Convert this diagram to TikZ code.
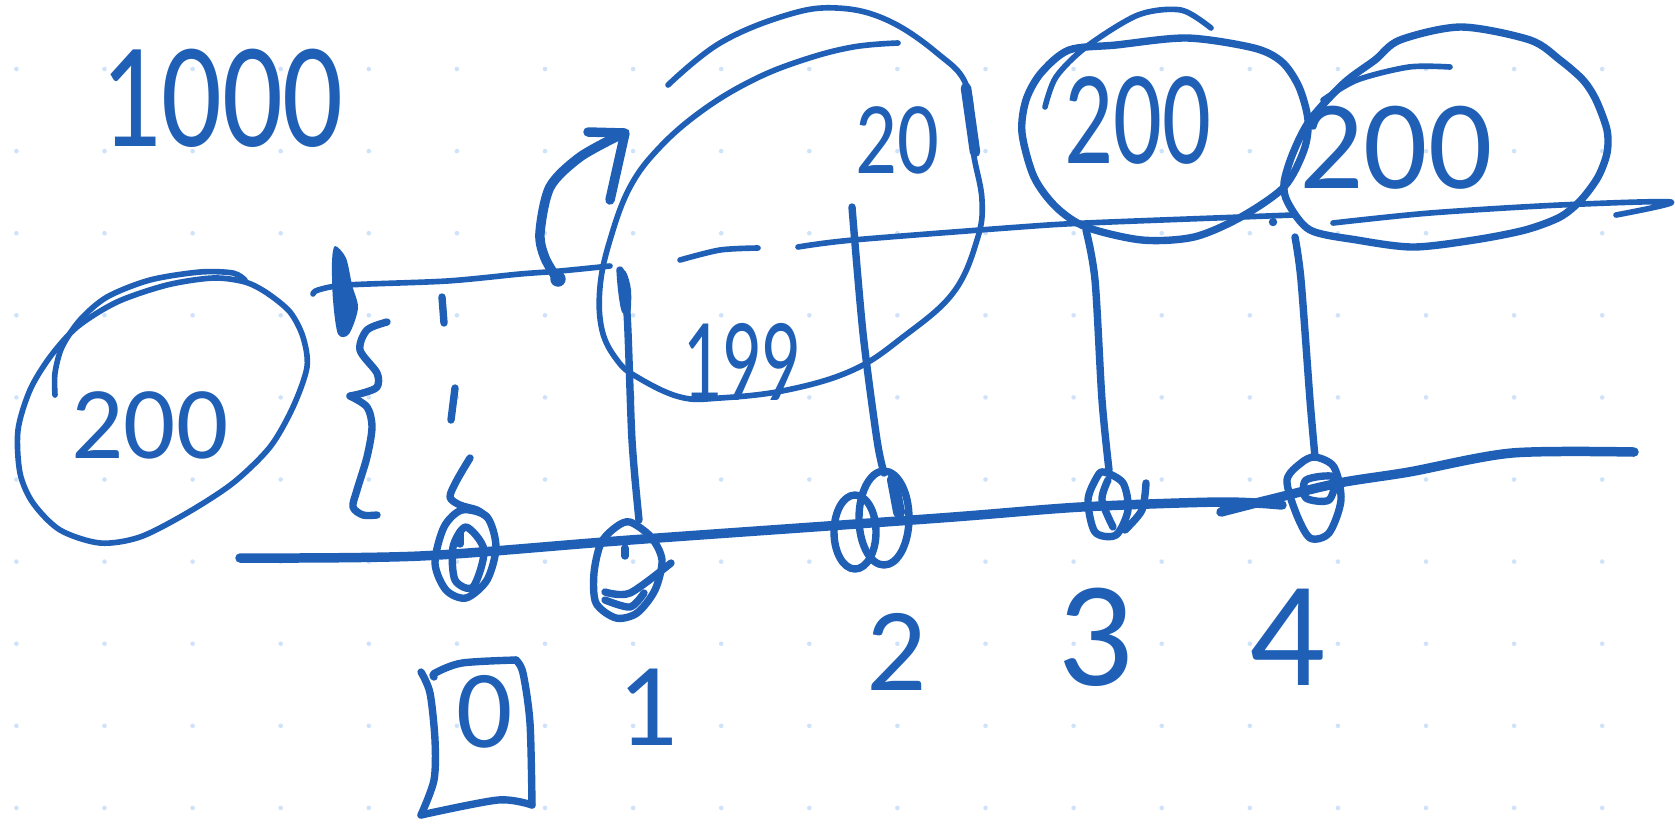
\documentclass[tikz,border=0pt]{standalone}
\usepackage{fontspec}
\setmainfont{Carlito}
\definecolor{ink}{RGB}{31,96,182}
\definecolor{gridc}{RGB}{206,226,250}
\begin{document}
\begin{tikzpicture}[x=0.01cm,y=-0.01cm,
  pen/.style={draw=ink,line width=1.6pt,line cap=round,line join=round},
  penm/.style={pen,line width=2.1pt},
  penb/.style={pen,line width=2.7pt},
  lbl/.style={text=ink,inner sep=0pt,font=\fontsize{#1pt}{#1pt}\selectfont}]
\fill[white] (0,0) rectangle (1675,823);
\useasboundingbox (0,0) rectangle (1675,823);
% dot grid
\foreach \i in {0,...,18}{\foreach \j in {0,...,9}{\fill[gridc] ({16.4+88.1*\i},{69+82.1*\j}) circle[radius=0.65pt];}}
% text
\node[lbl=42.7,xscale=0.8] (t1000) at (222,98) {1000};
\node[lbl=29.3] (tleft) at (150,425) {200};
\node[lbl=33.8,xscale=0.65] (t199) at (741,362) {199};
\node[lbl=29.3,xscale=0.8] (t20) at (897,140) {20};
\node[lbl=38.1,xscale=0.72] (ttop) at (1138,120) {200};
\node[lbl=36.1] (tright) at (1396,148) {200};
\node[lbl=31.6] (n0) at (485,712) {0};
\node[lbl=33.8] (n1) at (648,707) {1};
\node[lbl=33.8] (n2) at (897,652) {2};
\node[lbl=42.7] (n3) at (1096,637) {3};
\node[lbl=42.7] (n4) at (1288,637) {4};
% box around 0
\draw[penm] plot[smooth] coordinates {(421,672) (430,693) (435,740) (434,780) (421,815)};
\draw[penm] plot[smooth] coordinates {(421,815) (498,800) (532,805)};
\draw[penm] plot[smooth] coordinates {(532,805) (530,723) (523,673) (516,660)};
\draw[penm] plot[smooth] coordinates {(516,660) (462,663) (435,673) (434,677)};
% left circle
\draw[pen] plot[smooth cycle] coordinates {(245,282) (213,278) (167,285) (117,302) (77,327) (50,357) (30,390) (18,430) (20,473) (33,503) (60,530) (100,543) (140,537) (187,513) (233,483) (270,447) (293,407) (307,367) (303,337) (290,312) (267,293)};
\draw[pen] plot[smooth] coordinates {(245,280) (233,273) (200,272) (150,280) (107,297) (80,320) (62,347) (55,373) (55,395)};
% cross mark and top-left line
\fill[ink] plot[smooth cycle] coordinates {(335,246) (346,258) (352,285) (358,308) (349,334) (338,334) (333,300) (332,262)};
\draw[pen] plot[smooth] coordinates {(313,294) (318,290) (347,285) (447,281) (520,274) (560,271) (610,266)};
% brace
\draw[penm] plot[smooth] coordinates {(387,322) (367,330) (360,350) (377,373) (377,387) (363,393) (350,396)};
\draw[penm] plot[smooth] coordinates {(350,396) (367,407) (372,427) (367,457) (357,490) (353,507) (363,515) (377,515)};
% dashes
\draw[penm] (442,297) -- (444,323);
\draw[penm] (455,388) -- (451,420);
\draw[penm] plot[smooth] coordinates {(470,458) (457,480) (450,497) (460,505) (477,510) (487,517)};
% curved arrow
\draw[penb] plot[smooth] coordinates {(558,280) (545,258) (540,233) (550,187) (580,157) (620,135)};
\draw[penb] (588,132) -- (625,133) -- (610,200);
\fill[ink] (558,279) circle[radius=2.2pt];
% big spiral ellipse
\draw[pen] plot[smooth,tension=0.65] coordinates {(898,43) (853,47) (803,60) (753,80) (703,110) (660,147) (630,187) (610,240) (600,287) (602,330) (617,360) (637,377) (680,397) (720,398) (787,390) (853,370) (903,337) (953,293) (977,240) (982,200) (973,150) (967,87) (937,53) (887,20) (837,8) (787,15) (720,43) (668,85)};
\draw[penb,line width=3pt] (966,88) -- (975,152);
% upper line
\draw[pen] plot[smooth] coordinates {(680,260) (720,250) (758,248)};
\draw[pen] plot[smooth] coordinates {(798,247) (853,240) (1020,227) (1086,223) (1241,217) (1293,215)};
\draw[pen] plot[smooth] coordinates {(1333,223) (1430,213) (1560,205) (1671,202) (1616,215)};
\fill[ink] (1273,222) circle[radius=1.2pt];
% vertical lines
\fill[ink] plot[smooth cycle] coordinates {(617,268) (626,272) (631,290) (630,313) (622,312) (618,290)};
\draw[penm] plot[smooth] coordinates {(620,270) (627,313) (632,440) (639,520)};
\draw[penm] plot[smooth] coordinates {(852,207) (863,333) (877,440) (884,473)};
\draw[penm] plot[smooth] coordinates {(1086,230) (1095,280) (1102,400) (1109,470)};
\draw[penm] plot[smooth] coordinates {(1295,237) (1301,280) (1310,400) (1315,457)};
% bottom line
\draw[penb] plot[smooth] coordinates {(240,558) (420,556) (630,540) (940,518) (1081,507) (1221,502) (1282,505)};
\draw[penb] plot[smooth] coordinates {(1221,512) (1268,500) (1339,483) (1409,472) (1512,453) (1634,452)};
% node circles
\draw[penm] plot[smooth cycle] coordinates {(462,510) (487,517) (496,547) (487,580) (466,598) (446,590) (435,563) (444,527)};
\draw[penm] plot[smooth cycle] coordinates {(466,527) (484,550) (473,587) (455,580) (453,547)};
\draw[penm] (460,532) -- (460,544);
\draw[penm] plot[smooth cycle] coordinates {(630,522) (651,537) (662,560) (655,590) (637,613) (616,618) (596,603) (594,573) (601,543) (616,527)};
\draw[penm] plot[smooth] coordinates {(605,592) (630,593) (671,563)};
\draw[penm] plot[smooth] coordinates {(605,600) (630,607) (644,593)};
\draw[penm] (625,548) -- (625,556);
\draw[penm] (884,518) ellipse[x radius=25,y radius=47];
\draw[penm] (855,532) ellipse[x radius=21,y radius=37];
\draw[penb,line width=3.4pt] (893,480) -- (899,512);
\draw[penm] plot[smooth cycle] coordinates {(1104,472) (1123,483) (1128,510) (1116,535) (1095,532) (1088,500) (1097,477)};
\draw[penm] plot[smooth] coordinates {(1146,483) (1142,510) (1125,530)};
\draw[penm] plot[smooth] coordinates {(1108,480) (1102,500) (1113,527)};
\draw[penm] plot[smooth cycle] coordinates {(1315,457) (1334,467) (1341,500) (1329,533) (1310,538) (1296,513) (1287,480) (1301,463)};
\draw[penm] plot[smooth cycle] coordinates {(1306,480) (1334,477) (1329,500) (1306,498)};
% top circles
\draw[penm] plot[smooth cycle] coordinates {(1116,45) (1187,38) (1254,48) (1282,62) (1299,87) (1308,120) (1304,150) (1284,187) (1241,217) (1194,237) (1142,240) (1086,227) (1056,207) (1034,177) (1022,133) (1026,100) (1041,73) (1069,50)};
\draw[pen] plot[smooth] coordinates {(1045,107) (1056,77) (1086,47) (1138,15) (1181,10) (1211,28)};
\draw[penm] plot[smooth cycle] coordinates {(1461,27) (1530,40) (1560,60) (1583,80) (1596,100) (1607,130) (1607,153) (1598,177) (1581,200) (1560,217) (1525,230) (1474,240) (1413,247) (1357,240) (1310,230) (1288,203) (1284,183) (1293,153) (1310,120) (1344,83) (1375,60) (1400,40)};
\draw[pen] plot[smooth] coordinates {(1323,100) (1357,80) (1409,67) (1450,67)};
\end{tikzpicture}
\end{document}
